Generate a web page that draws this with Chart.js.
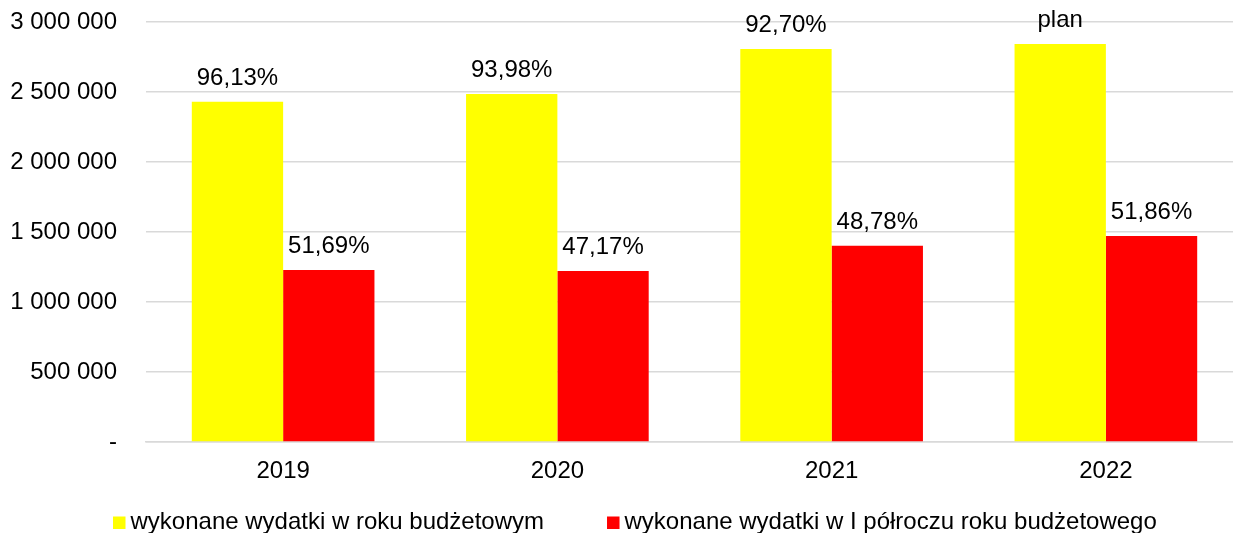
<!DOCTYPE html>
<html>
<head>
<meta charset="utf-8">
<script src="https://cdn.jsdelivr.net/npm/chart.js@4/dist/chart.umd.min.js"></script>
<style>
  html, body { margin: 0; padding: 0; background: #fff; overflow: hidden; }
  /* plot area runs a little past the right window edge, like the original */
  #wrap { width: 1243px; height: 533px; }
</style>
</head>
<body>
<div id="wrap"><canvas id="chart"></canvas></div>
<script>
// ── Daten ──────────────────────────────────────────────────────────────────
const YEARS = ['2019', '2020', '2021', '2022'];
const SERIES_NAMES = [
    'wykonane wydatki w roku budżetowym',
    'wykonane wydatki w I półroczu roku budżetowego',
];
const SPENT_YEAR = [2430000, 2486000, 2807000, 2843000];
const SPENT_HALF = [1228000, 1222000, 1402000, 1471000];
const LABELS_YEAR = ['96,13%', '93,98%', '92,70%', 'plan'];
const LABELS_HALF = ['51,69%', '47,17%', '48,78%', '51,86%'];
const Y_TICKS = [0, 500000, 1000000, 1500000, 2000000, 2500000, 3000000];

const FONT = '"Liberation Sans", Arial, sans-serif';
const FONT_SIZE = 24;
const COLORS = ['#FFFF00', '#FF0000'];

function formatNumber(v) {
    if (v === 0) return '-';
    return String(v).replace(/\B(?=(\d{3})+(?!\d))/g, ' ');
}

// ── Plugins ────────────────────────────────────────────────────────────────

// Prozentwerte über den Balken
const barLabels = {
    id: 'barLabels',
    afterDatasetsDraw(chart) {
        const ctx = chart.ctx;
        ctx.save();
        ctx.font = `${FONT_SIZE}px ${FONT}`;
        ctx.fillStyle = '#000';
        ctx.textAlign = 'center';
        ctx.textBaseline = 'alphabetic';
        chart.data.datasets.forEach((ds, i) => {
            chart.getDatasetMeta(i).data.forEach((bar, j) => {
                ctx.fillText(ds.valueLabels[j], bar.x, bar.y - 17);
            });
        });
        ctx.restore();
    },
};

// Legende unten, Quadrat direkt vor dem Text
const bottomLegend = {
    id: 'bottomLegend',
    afterDraw(chart) {
        const ctx = chart.ctx;
        const box = 12.5;
        const gap = 5;
        const itemGap = 63;
        const baseline = 529;
        ctx.save();
        ctx.font = `${FONT_SIZE}px ${FONT}`;
        ctx.textBaseline = 'alphabetic';
        ctx.textAlign = 'left';
        let x = chart.chartArea.left - 33;
        chart.data.datasets.forEach(ds => {
            ctx.fillStyle = ds.backgroundColor;
            ctx.fillRect(x, baseline - box, box, box);
            ctx.fillStyle = '#000';
            ctx.fillText(ds.label, x + box + gap, baseline);
            x += box + gap + ctx.measureText(ds.label).width + itemGap;
        });
        ctx.restore();
    },
};

// ── Chart ──────────────────────────────────────────────────────────────────
new Chart(document.getElementById('chart'), {
    type: 'bar',
    data: {
        labels: YEARS,
        datasets: [
            {
                label: SERIES_NAMES[0],
                data: SPENT_YEAR,
                valueLabels: LABELS_YEAR,
                backgroundColor: COLORS[0],
            },
            {
                label: SERIES_NAMES[1],
                data: SPENT_HALF,
                valueLabels: LABELS_HALF,
                backgroundColor: COLORS[1],
            },
        ],
    },
    options: {
        responsive: true,
        maintainAspectRatio: false,
        animation: false,
        layout: { padding: { left: 0, right: 0, top: 22, bottom: 0 } },
        datasets: {
            bar: { categoryPercentage: 0.666, barPercentage: 1.0 },
        },
        plugins: {
            legend: { display: false },
            tooltip: { enabled: false },
        },
        scales: {
            x: {
                grid: { display: false, drawTicks: false },
                border: { display: true, color: '#D9D9D9', width: 1.5 },
                ticks: {
                    padding: 15,
                    color: '#000',
                    font: { family: FONT, size: FONT_SIZE },
                },
                afterFit(scale) { scale.height = 91; },
            },
            y: {
                min: 0,
                max: 3000000,
                afterBuildTicks(scale) {
                    scale.ticks = Y_TICKS.map(v => ({ value: v }));
                },
                // Abstand Label–Achse über unsichtbare Ticks statt ticks.padding
                grid: {
                    color: '#D9D9D9',
                    lineWidth: 1.5,
                    drawTicks: true,
                    tickLength: 29,
                    tickColor: 'transparent',
                },
                border: { display: false },
                ticks: {
                    padding: 0,
                    color: '#000',
                    font: { family: FONT, size: FONT_SIZE },
                    callback: v => formatNumber(v),
                },
                afterFit(scale) { scale.width = 146; },
            },
        },
    },
    plugins: [barLabels, bottomLegend],
});
</script>
</body>
</html>
